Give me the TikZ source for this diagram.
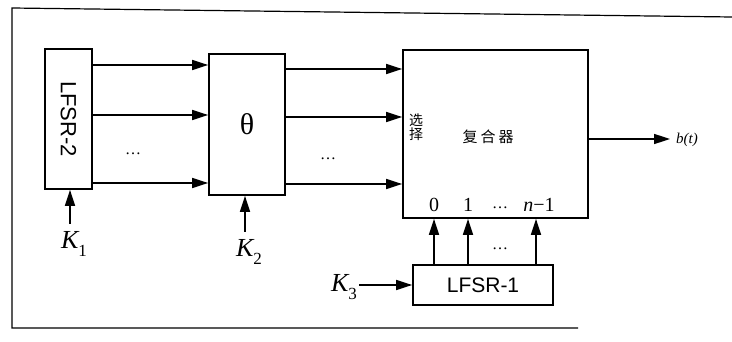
\documentclass[tikz,border=0pt]{standalone}
\usepackage{fontspec}
\setmainfont{Liberation Serif}
\newfontfamily\sansf{Liberation Sans}
\newfontfamily\cjk{Noto Sans CJK SC}
\usetikzlibrary{arrows.meta}
\newcommand{\keyl}[1]{{\itshape K}\raisebox{-0.28em}{\fontsize{17}{18}\selectfont #1}}
\begin{document}
\begin{tikzpicture}[x=1pt,y=-1pt,
  box/.style={draw,line width=1.7pt,inner sep=0pt,anchor=center},
  arr/.style={line width=1.6pt,-{Triangle[length=16pt,width=10pt]}},
  klabel/.style={font=\fontsize{26}{28}\selectfont,inner sep=0pt},
  dotsl/.style={font=\fontsize{16}{16}\selectfont,inner sep=0pt},
  frame/.style={line width=1.2pt}]
\useasboundingbox (0,0) rectangle (732,342);
% frame
\draw[frame] (732,17) -- (12,8) -- (12,328) -- (578,328);
% boxes
\node[box,minimum width=47pt,minimum height=140pt] (lfsr2) at (68.5,119) {};
\node[rotate=-90,font=\sansf\fontsize{22}{24}\selectfont] at (lfsr2.center) {LFSR-2};
\node[box,minimum width=76pt,minimum height=141pt,font=\fontsize{30}{32}\selectfont] (theta) at (247,124.5) {θ};
\node[box,minimum width=185pt,minimum height=168pt] (mux) at (495.5,134) {};
\node[box,minimum width=140pt,minimum height=40pt,font=\sansf\fontsize{21}{24}\selectfont] (lfsr1) at (483,285) {LFSR-1};
% mux texts
\node[font=\cjk\fontsize{14}{15}\selectfont,inner sep=0pt,align=center] (sel) at (416,127) {选\\[-1pt]择};
\node[font=\cjk\fontsize{15}{16}\selectfont,inner sep=0pt] (cmb) at (488,137) {复\hspace{3pt}合\hspace{3pt}器};
\node[font=\fontsize{20}{22}\selectfont,inner sep=0pt] (i0) at (434,205) {0};
\node[font=\fontsize{20}{22}\selectfont,inner sep=0pt] (i1) at (468,205) {1};
\node[dotsl] (id) at (500,208) {…};
\node[font=\fontsize{20}{22}\selectfont,inner sep=0pt] (in) at (539,205) {{\itshape n}−1};
% arrows LFSR-2 -> theta
\foreach \yy in {65,115,183} \draw[arr] (lfsr2.east |- 0,\yy) -- (theta.west |- 0,\yy);
\node[dotsl] (d1) at (133,154) {…};
% arrows theta -> mux
\foreach \yy in {69,117,184} \draw[arr] (theta.east |- 0,\yy) -- (mux.west |- 0,\yy);
\node[dotsl] (d2) at (328,159) {…};
% keys
\node[klabel] (k1) at (74,244) {\keyl{1}};
\draw[arr] (70,224) -- (lfsr2.south -| 70,0);
\node[klabel] (k2) at (249,252) {\keyl{2}};
\draw[arr] (245,232) -- (theta.south -| 245,0);
\node[klabel] (k3) at (344,287) {\keyl{3}};
\draw[arr] (k3.east) ++(2,-2) coordinate (k3e) (k3e) -- (lfsr1.west |- k3e);
% LFSR-1 -> mux
\foreach \xx in {434,468,536} \draw[arr] (lfsr1.north -| \xx,0) -- (mux.south -| \xx,0);
\node[dotsl] (d3) at (500,249) {…};
% output
\draw[arr] (mux.east |- 0,139) -- (670,139) coordinate (oe);
\node[font=\fontsize{15}{16}\selectfont\itshape,inner sep=0pt,anchor=west] (bt) at (676,140) {b(t)};
\end{tikzpicture}
\end{document}
